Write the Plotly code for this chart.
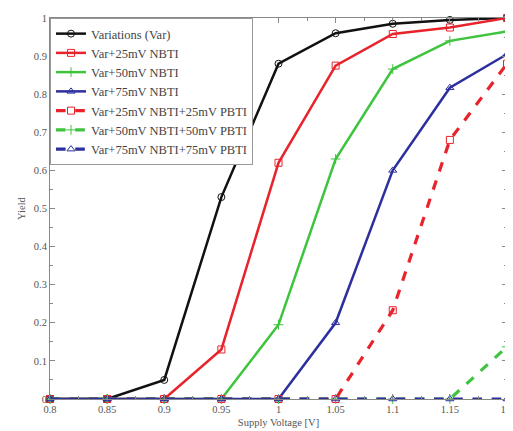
import plotly.graph_objects as go

voltage = [0.8, 0.85, 0.9, 0.95, 1.0, 1.05, 1.1, 1.15, 1.2]

var_only = [0, 0, 0.05, 0.53, 0.88, 0.96, 0.985, 0.995, 1.0]
nbti25 = [0, 0, 0, 0.13, 0.62, 0.875, 0.958, 0.975, 1.0]
nbti50 = [0, 0, 0, 0, 0.195, 0.63, 0.866, 0.94, 0.965]
nbti75 = [0, 0, 0, 0, 0, 0.2, 0.6, 0.817, 0.905]
nbti25_pbti25 = [0, 0, 0, 0, 0, 0, 0.233, 0.68, 0.88]
nbti50_pbti50 = [0, 0, 0, 0, 0, 0, 0, 0, 0.137]
nbti75_pbti75 = [0, 0, 0, 0, 0, 0, 0, 0, 0]

names = ["Variations (Var)", "Var+25mV NBTI", "Var+50mV NBTI", "Var+75mV NBTI",
         "Var+25mV NBTI+25mV PBTI", "Var+50mV NBTI+50mV PBTI", "Var+75mV NBTI+75mV PBTI"]

BLACK = "#111111"
RED = "#e8232b"
GREEN = "#3ec43e"
BLUE = "#2d2f9e"

series = [
    (var_only, BLACK, "solid", "circle-open"),
    (nbti25, RED, "solid", "square-open"),
    (nbti50, GREEN, "solid", "cross-thin-open"),
    (nbti75, BLUE, "solid", "triangle-up-open"),
    (nbti25_pbti25, RED, "dash", "square-open"),
    (nbti50_pbti50, GREEN, "dash", "cross-thin-open"),
    (nbti75_pbti75, BLUE, "dash", "triangle-up-open"),
]

fig = go.Figure()
for i, (ys, col, dash, sym) in enumerate(series):
    fig.add_trace(go.Scatter(
        x=voltage, y=ys, name=names[i], mode="lines+markers",
        line=dict(color=col, width=3.2 if dash == "dash" else 2.5, dash=dash),
        marker=dict(symbol=sym, size=7, color=col, line=dict(color=col, width=1)),
        cliponaxis=False,
    ))

axis_common = dict(
    showline=True, linecolor="#888888", linewidth=1, mirror="ticks",
    ticks="inside", tickcolor="#888888", ticklen=5,
    showgrid=False, zeroline=False, automargin=False,
    ticklabeloverflow="allow",
    tickfont=dict(family="Liberation Serif", size=10.5, color="#555555"),
)

fig.update_xaxes(
    range=[0.8, 1.2], tickvals=voltage,
    ticktext=["0.8", "0.85", "0.9", "0.95", "1", "1.05", "1.1", "1.15", "1.2"],
    minor=dict(dtick=0.025, ticks="inside", ticklen=3, tickcolor="#888888"),
    title=dict(text="Supply Voltage [V]", font=dict(family="Liberation Serif", size=10.5, color="#555555"), standoff=5),
    **axis_common,
)
fig.update_yaxes(
    range=[0, 1], tickvals=[0, 0.1, 0.2, 0.3, 0.4, 0.5, 0.6, 0.7, 0.8, 0.9, 1],
    ticktext=["0", "0.1", "0.2", "0.3", "0.4", "0.5", "0.6", "0.7", "0.8", "0.9", "1"],
    minor=dict(dtick=0.05, ticks="inside", ticklen=3, tickcolor="#888888"),
    title=dict(text="Yield", font=dict(family="Liberation Serif", size=10.5, color="#555555"), standoff=6),
    **axis_common,
)

fig.update_layout(
    width=505, height=423,
    margin=dict(l=42, r=6, t=10, b=32),
    plot_bgcolor="white", paper_bgcolor="white",
    font=dict(family="Liberation Serif", size=12, color="#444444"),
    legend=dict(
        x=0.0, y=1.0, xanchor="left", yanchor="top",
        bgcolor="white", bordercolor="#999999", borderwidth=1,
        font=dict(family="Liberation Serif", size=12.5, color="#444444"),
        tracegroupgap=0, itemwidth=30,
    ),
    showlegend=True,
)

fig.write_html("out.html")
